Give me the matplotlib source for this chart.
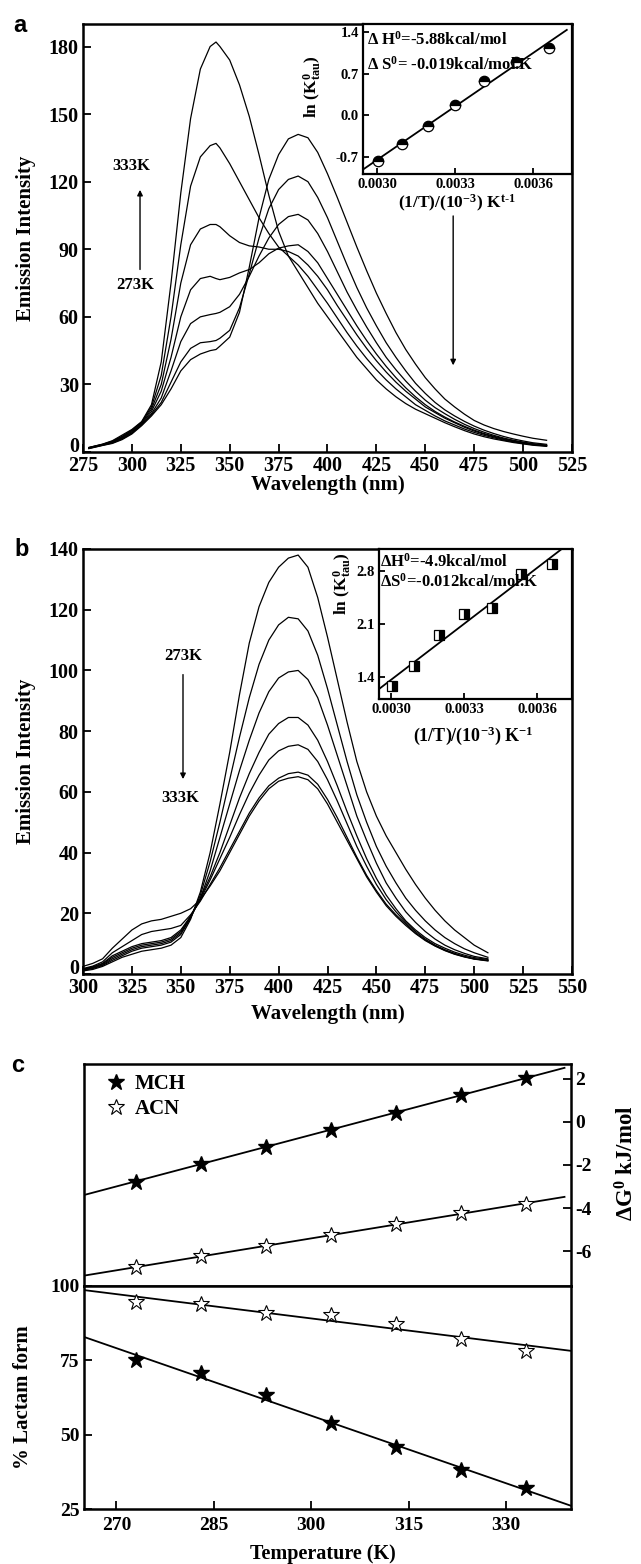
import numpy as np
import matplotlib
matplotlib.use('Agg')
import matplotlib.pyplot as plt
from matplotlib.ticker import FormatStrFormatter

plt.rcParams['font.family'] = 'Liberation Serif'
plt.rcParams['font.weight'] = 'bold'
plt.rcParams['axes.labelweight'] = 'bold'
plt.rcParams['axes.unicode_minus'] = False
plt.rcParams['mathtext.fontset'] = 'custom'
plt.rcParams['mathtext.rm'] = 'Liberation Serif:bold'
plt.rcParams['mathtext.it'] = 'Liberation Serif:bold'
plt.rcParams['mathtext.bf'] = 'Liberation Serif:bold'
plt.rcParams['mathtext.default'] = 'rm'

# ---- panel a: emission spectra, 273K .. 333K
wl_a = [278, 285, 290, 295, 300, 305, 310, 315, 320, 325, 330, 335, 340, 343, 345,
        350, 355, 360, 365, 370, 375, 380, 385, 390, 395, 400,
        405, 410, 415, 420, 425, 430, 435, 440, 445, 450, 455, 460, 465, 470,
        475, 480, 485, 490, 495, 500, 505, 512]
a333 = [2, 3.5, 5, 7.5, 10, 13.5, 21, 40, 75, 115, 148, 170, 180, 182, 180,
        174, 163, 149, 132, 114, 98, 87, 80, 73, 66, 60,
        54, 48, 42, 37, 32, 28, 24.5, 21.5, 19, 17, 15, 13, 11.2, 9.5, 8, 6.8, 5.8, 5, 4.2, 3.6, 3, 2.5]
a323 = [2, 3.4, 4.8, 7, 9.7, 13.3, 20, 34, 60, 92, 118, 131, 136, 137, 135,
        128, 120, 112, 104, 97, 91, 87, 83, 78, 72, 66,
        59.5, 53, 47, 41.5, 36.5, 32, 28, 24.5, 21, 18.5, 16, 13.8, 12, 10.2, 8.7, 7.4, 6.3, 5.3, 4.5, 3.8, 3.2, 2.7]
a313 = [1.9, 3.3, 4.6, 6.7, 9.4, 13, 19, 30, 50, 75, 92, 99, 101, 101, 100,
        96, 93, 91.5, 91, 90, 90, 89, 87, 83, 78, 72,
        65, 58.5, 52, 46, 40.5, 35.5, 31, 27, 23.5, 20, 17.5, 15, 13, 11, 9.3, 7.9, 6.7, 5.6, 4.7, 4, 3.4, 2.8]
a303 = [1.8, 3.2, 4.4, 6.4, 9, 12.6, 18, 27, 42, 60, 72, 77, 78, 77, 76.5,
        77.5, 79.5, 81, 84, 88, 90.5, 91.5, 92, 89, 84, 77,
        70, 63, 56, 49.5, 43.5, 38, 33, 28.5, 24.5, 21, 18, 15.5, 13.3, 11.4, 9.7, 8.2, 7, 5.9, 5, 4.2, 3.5, 2.9]
a293 = [1.7, 3.1, 4.2, 6.1, 8.6, 12.3, 17, 24, 36, 49, 57, 60, 61, 61.5, 62,
        64.5, 70, 78, 87, 95, 101, 104.5, 105.5, 103, 97, 89,
        80, 71, 63, 55.5, 48.5, 42, 36.5, 31.5, 27, 23, 19.7, 17, 14.5, 12.3, 10.4, 8.8, 7.4, 6.2, 5.2, 4.4, 3.7, 3]
a283 = [1.6, 3, 4, 5.8, 8.3, 12, 16.5, 22, 31, 40, 46, 48.5, 49, 49.5, 50.5,
        54, 64, 79, 95, 108, 116.5, 121, 122.5, 120, 113, 104,
        93.5, 83, 73, 64, 56, 48.5, 42, 36, 30.5, 26, 22, 18.7, 16, 13.6, 11.5, 9.7, 8.2, 6.9, 5.8, 4.9, 4.1, 3.4]
a273 = [1.5, 2.9, 3.8, 5.5, 8, 11.7, 16, 21, 28, 36, 41, 43.5, 45, 45.5, 47,
        51, 62, 82, 104, 121, 132, 139, 141, 139.5, 133, 123.5,
        113, 102, 91, 80.5, 70.5, 61.5, 53, 45.5, 39, 33, 28, 23.5, 20, 16.8, 14, 12, 10.4, 9.1, 8, 7, 6.1, 5.2]

# inset a: ln K vs 1/T
temps = [333, 323, 313, 303, 293, 283, 273]
lnk_a = [-0.77, -0.48, -0.18, 0.17, 0.57, 0.90, 1.13]

# ---- panel b
wl_b = [300, 305, 310, 315, 320, 325, 330, 335, 340, 345,
        350, 355, 360, 365, 370, 375, 380, 385, 390, 395, 400,
        405, 410, 415, 420, 425, 430, 435, 440, 445, 450, 455, 460, 465, 470,
        475, 480, 485, 490, 495, 500, 507]
b273 = [1.0, 1.5, 2.5, 4, 5.5, 6.5, 7.5, 8, 8.5, 9.5,
        12, 18, 27, 40, 56, 73, 92, 109, 121, 129, 134,
        137, 138, 134, 124, 111, 97, 83, 70, 60, 52, 45.5, 40, 34.5, 29.5, 25, 21, 17.5, 14.5, 12, 9.5, 7]
b283 = [1.2, 1.8, 2.8, 4.5, 6, 7.5, 8.5, 9, 9.5, 10.5,
        13, 18.5, 26, 37, 50, 64, 78, 91, 102, 110, 115,
        117.5, 117, 113, 105, 94, 82, 70, 59, 50, 42, 35.5, 30, 25, 21, 17.5, 14.5, 12, 10, 8.3, 7, 5.5]
b293 = [1.3, 2, 3, 5, 6.5, 8, 9, 9.5, 10, 11,
        13.5, 18.5, 25, 34, 45, 56, 67, 77, 86, 93, 97.5,
        99.5, 100, 97, 91, 82, 72, 62, 52, 44, 36.5, 30, 25, 20.5, 17, 14, 11.5, 9.5, 8, 6.8, 5.8, 5]
b303 = [1.5, 2.2, 3.3, 5.5, 7, 8.5, 9.5, 10, 10.5, 11.5,
        14, 19, 25, 32, 40, 49, 58, 66, 73, 79, 82.5,
        84.5, 84.5, 82, 77, 70, 62, 53.5, 45.5, 38, 31.5, 26, 21.5, 17.5, 14.5, 12, 10, 8.5, 7.2, 6.2, 5.4, 4.8]
b313 = [1.6, 2.4, 3.5, 6, 7.5, 9, 10, 10.5, 11, 12,
        14.5, 19, 24.5, 31, 38, 45, 52.5, 59.5, 65.5, 70.5, 73.5,
        75, 75.5, 74, 70, 64, 57, 49.5, 42, 35.5, 29.5, 24.5, 20.5, 17, 14, 11.5, 9.5, 8, 6.8, 5.8, 5, 4.5]
b323 = [1.8, 2.6, 4, 7, 9, 11, 13, 14, 14.5, 15,
        16, 19.5, 24, 29.5, 35, 41, 47, 53, 58, 62, 64.5,
        66, 66.5, 65.5, 62.5, 57.5, 51.5, 45, 38.5, 32.5, 27.5, 23, 19.5, 16.5, 13.5, 11.2, 9.3, 7.8, 6.6, 5.7, 5, 4.4]
b333 = [2.5, 3.5, 5, 8.5, 11.5, 14.5, 16.5, 17.5, 18, 19,
        20, 21.5, 24.5, 29, 34, 40, 46, 52, 57, 61, 63.5,
        64.5, 65, 64, 61, 56, 50, 44, 38, 32, 27, 22.5, 19, 16, 13.3, 11, 9.2, 7.7, 6.5, 5.6, 4.9, 4.3]

lnk_b = [1.28, 1.55, 1.95, 2.23, 2.31, 2.76, 2.89]

# ---- panel c
temp_c = [273, 283, 293, 303, 313, 323, 333]
dg_mch = [-2.77, -1.94, -1.15, -0.37, 0.42, 1.25, 2.03]
dg_acn = [-6.74, -6.24, -5.77, -5.27, -4.76, -4.25, -3.79]
lactam_mch = [75, 70.7, 63.3, 54, 45.7, 38, 32]
lactam_acn = [94.7, 94, 91, 90.3, 87.3, 82.3, 78.3]

W, H = 641, 1564


def box(l, t, r, b):
    return [l / W, 1 - b / H, (r - l) / W, (b - t) / H]


def frame(ax, lw=1.8, tl=6, ls=14.5):
    for s in ax.spines.values():
        s.set_linewidth(lw)
    ax.tick_params(direction='in', length=tl, width=1.3, labelsize=ls, pad=3)


def fitline(ax, x, y, x0, x1, lw=1.3):
    p = np.polyfit(x, y, 1)
    xx = np.array([x0, x1])
    ax.plot(xx, np.polyval(p, xx), color='black', lw=lw)


def arrow(ax, x, y0, y1):
    ax.annotate('', xy=(x, y1), xytext=(x, y0), xycoords='axes fraction',
                arrowprops=dict(arrowstyle='-|>', lw=1.0, color='black', mutation_scale=8))


fig = plt.figure(figsize=(W / 100, H / 100), dpi=100)

# ================= panel a
ax_a = fig.add_axes(box(83, 24, 572, 452))
for yv in [a333, a323, a313, a303, a293, a283, a273]:
    ax_a.plot(wl_a, yv, color='black', lw=0.9)
ax_a.set_xlim(275, 525)
ax_a.set_ylim(0, 190)
ax_a.set_xticks(range(275, 526, 25))
ax_a.set_yticks(range(0, 181, 30))
frame(ax_a)
ax_a.get_yticklabels()[0].set_va('baseline')
ax_a.set_xlabel('Wavelength (nm)', fontsize=15)
ax_a.set_ylabel('Emission Intensity', fontsize=15)
ax_a.xaxis.set_label_coords(0.5, -0.054)
ax_a.yaxis.set_label_coords(-0.097, 0.5)
arrow(ax_a, 0.1166, 0.42, 0.619)
ax_a.text(0.098, 0.668, '333K', transform=ax_a.transAxes, fontsize=12, ha='center', va='center')
ax_a.text(0.106, 0.39, '273K', transform=ax_a.transAxes, fontsize=12, ha='center', va='center')
arrow(ax_a, 0.757, 0.558, 0.196)
fig.text(20 / W, 1 - 25 / H, 'a', family='Liberation Sans', fontsize=17, fontweight='bold',
         ha='center', va='center')

ins_a = fig.add_axes(box(363, 24, 572, 174))
inv_t = [1.0 / t for t in temps]
fitline(ins_a, inv_t, lnk_a, 0.002946, 0.00373)
ins_a.plot(inv_t, lnk_a, 'o', ms=7.5, fillstyle='top', markerfacecolor='black',
           markerfacecoloralt='white', markeredgecolor='black', mew=0.9)
ins_a.set_xlim(0.002946, 0.00375)
ins_a.set_ylim(-0.985, 1.53)
ins_a.set_xticks([0.0030, 0.0033, 0.0036])
ins_a.set_yticks([-0.7, 0.0, 0.7, 1.4])
ins_a.xaxis.set_major_formatter(FormatStrFormatter('%.4f'))
ins_a.yaxis.set_major_formatter(FormatStrFormatter('%.1f'))
frame(ins_a, lw=1.6, tl=4, ls=10.5)
ins_a.set_xlabel(r'(1/T)/(10$^{-3}$) K$^{t\text{-}1}$', fontsize=12.5)
ins_a.set_ylabel(r'ln (K$_{tau}^{0}$)', fontsize=12.5)
ins_a.xaxis.set_label_coords(0.45, -0.125)
ins_a.yaxis.set_label_coords(-0.19, 0.58)
ins_a.text(0.02, 0.893, r'$\Delta$ H$^{0}$=-5.88kcal/mol', transform=ins_a.transAxes,
           fontsize=12, va='center', ha='left')
ins_a.text(0.02, 0.727, r'$\Delta$ S$^{0}$= -0.019kcal/mol.K', transform=ins_a.transAxes,
           fontsize=12, va='center', ha='left')

# ================= panel b
ax_b = fig.add_axes(box(83, 549, 572, 974))
for yv in [b273, b283, b293, b303, b313, b323, b333]:
    ax_b.plot(wl_b, yv, color='black', lw=0.9)
ax_b.set_xlim(300, 550)
ax_b.set_ylim(0, 140)
ax_b.set_xticks(range(300, 551, 25))
ax_b.set_yticks(range(0, 141, 20))
frame(ax_b)
ax_b.get_yticklabels()[0].set_va('baseline')
ax_b.set_xlabel('Wavelength (nm)', fontsize=15)
ax_b.set_ylabel('Emission Intensity', fontsize=15)
ax_b.xaxis.set_label_coords(0.5, -0.07)
ax_b.yaxis.set_label_coords(-0.097, 0.5)
arrow(ax_b, 0.2045, 0.711, 0.452)
ax_b.text(0.204, 0.748, '273K', transform=ax_b.transAxes, fontsize=12, ha='center', va='center')
ax_b.text(0.200, 0.414, '333K', transform=ax_b.transAxes, fontsize=12, ha='center', va='center')
fig.text(22 / W, 1 - 549 / H, 'b', family='Liberation Sans', fontsize=17, fontweight='bold',
         ha='center', va='center')

ins_b = fig.add_axes(box(379, 549, 572, 699))
fitline(ins_b, inv_t, lnk_b, 0.00295, 0.003702)
ins_b.plot(inv_t, lnk_b, 's', ms=6.5, fillstyle='right', markerfacecolor='black',
           markerfacecoloralt='white', markeredgecolor='black', mew=0.9)
ins_b.set_xlim(0.00295, 0.003744)
ins_b.set_ylim(1.11, 3.09)
ins_b.set_xticks([0.0030, 0.0033, 0.0036])
ins_b.set_yticks([1.4, 2.1, 2.8])
ins_b.xaxis.set_major_formatter(FormatStrFormatter('%.4f'))
ins_b.yaxis.set_major_formatter(FormatStrFormatter('%.1f'))
frame(ins_b, lw=1.6, tl=4, ls=10.5)
ins_b.set_xlabel(r'(1/T)/(10$^{-3}$) K$^{-1}$', fontsize=13)
ins_b.set_ylabel(r'ln (K$_{tau}^{0}$)', fontsize=12.5)
ins_b.xaxis.set_label_coords(0.49, -0.17)
ins_b.yaxis.set_label_coords(-0.135, 0.77)
ins_b.text(0.005, 0.913, r'$\Delta$H$^{0}$=-4.9kcal/mol', transform=ins_b.transAxes,
           fontsize=12, va='center', ha='left')
ins_b.text(0.005, 0.78, r'$\Delta$S$^{0}$=-0.012kcal/mol.K', transform=ins_b.transAxes,
           fontsize=12, va='center', ha='left')

# ================= panel c
ax_ct = fig.add_axes(box(84, 1064, 571, 1286))
ax_cb = fig.add_axes(box(84, 1286, 571, 1509))

fitline(ax_ct, temp_c, dg_mch, 265, 339)
fitline(ax_ct, temp_c, dg_acn, 265, 339)
ax_ct.plot(temp_c, dg_mch, '*', ms=12, color='black', mec='black', label='MCH')
ax_ct.plot(temp_c, dg_acn, '*', ms=12, color='white', mec='black', mew=0.8, label='ACN')
ax_ct.set_xlim(265, 340)
ax_ct.set_ylim(-7.62, 2.69)
ax_ct.set_yticks([-6, -4, -2, 0, 2])
ax_ct.yaxis.set_major_formatter(FormatStrFormatter('%d'))
frame(ax_ct, ls=14)
ax_ct.tick_params(left=False, labelleft=False, bottom=False, labelbottom=False,
                  right=True, labelright=True)
ax_ct.yaxis.set_label_position('right')
ax_ct.set_ylabel(r'$\Delta$G$^{0}$ kJ/mol', fontsize=16.5)
ax_ct.yaxis.set_label_coords(1.09, 0.554)
ax_ct.legend(loc='upper left', bbox_to_anchor=(0.01, 1.02), frameon=False, fontsize=15,
             handlelength=1.2, handletextpad=0.3, labelspacing=0.25, borderaxespad=0.3)

fitline(ax_cb, temp_c, lactam_mch, 265, 340)
fitline(ax_cb, temp_c, lactam_acn, 265, 340)
ax_cb.plot(temp_c, lactam_mch, '*', ms=12, color='black', mec='black')
ax_cb.plot(temp_c, lactam_acn, '*', ms=12, color='white', mec='black', mew=0.8)
ax_cb.set_xlim(265, 340)
ax_cb.set_ylim(25, 100)
ax_cb.set_xticks([270, 285, 300, 315, 330])
ax_cb.set_yticks([25, 50, 75, 100])
frame(ax_cb, ls=14)
ax_cb.tick_params(axis='x', pad=6)
ax_cb.set_xlabel('Temperature (K)', fontsize=14.5)
ax_cb.set_ylabel('% Lactam form', fontsize=15)
ax_cb.xaxis.set_label_coords(0.49, -0.155)
ax_cb.yaxis.set_label_coords(-0.105, 0.5)
fig.text(18 / W, 1 - 1065 / H, 'c', family='Liberation Sans', fontsize=17, fontweight='bold',
         ha='center', va='center')

fig.savefig('out.png', dpi=100)
